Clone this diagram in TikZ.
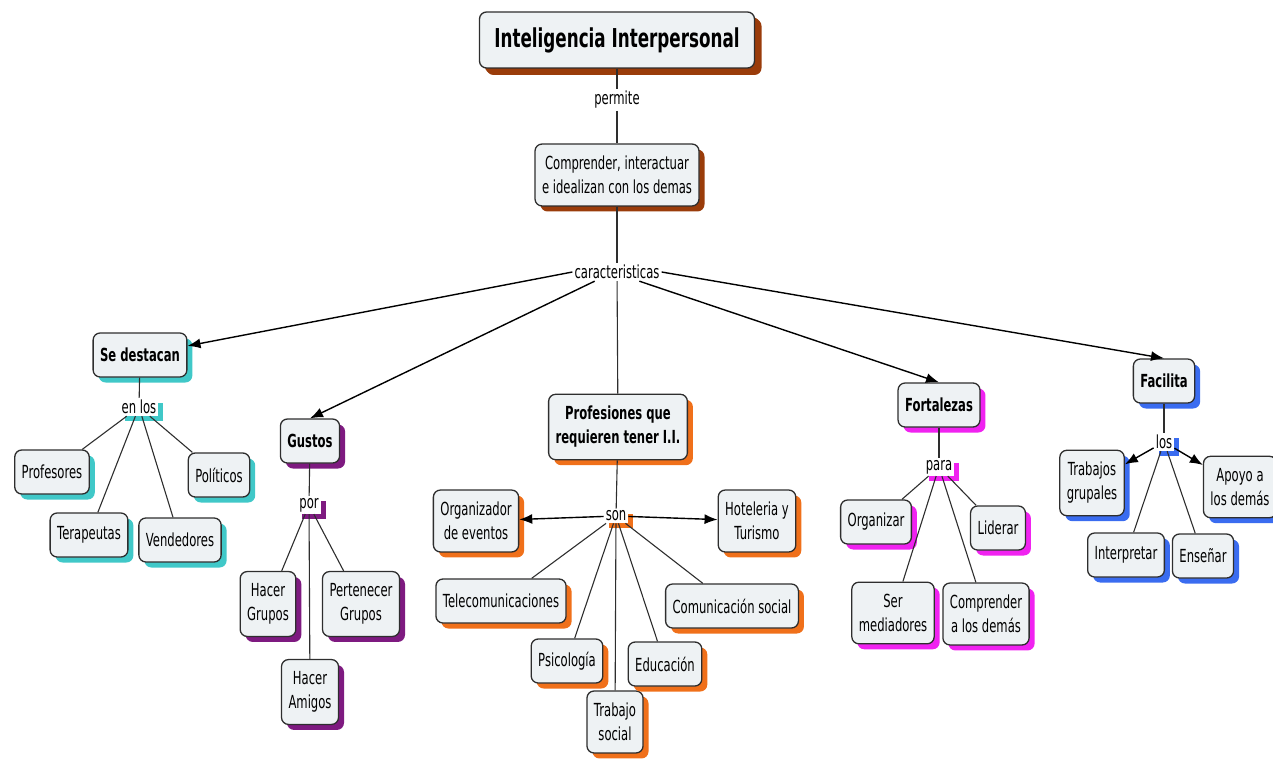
\documentclass[tikz,border=0pt]{standalone}
\usepackage{fontspec}
\setmainfont{DejaVu Sans}[FakeStretch=0.645]
\usetikzlibrary{shadows,arrows.meta,calc}
\definecolor{edgegray}{HTML}{2E2E2E}
\definecolor{boxfill}{HTML}{EEF2F4}
\definecolor{shbrown}{HTML}{9A3C0A}
\definecolor{shteal}{HTML}{40C8C8}
\definecolor{shpurple}{HTML}{7E1A80}
\definecolor{shorange}{HTML}{F0701A}
\definecolor{shmagenta}{HTML}{F022F0}
\definecolor{shblue}{HTML}{3A6CF0}
\tikzset{
  concept/.style={draw=edgegray, line width=1.3pt, fill=boxfill, rounded corners=7pt,
    align=center, font=\fontsize{18}{24}\selectfont, inner xsep=7pt, inner ysep=12pt,
    minimum height=44pt,
    drop shadow={shadow xshift=5.5pt, shadow yshift=-5.5pt, fill=#1, opacity=1}},
  boldconcept/.style={concept=#1, font=\fontsize{18}{24}\selectfont\bfseries},
  linkword/.style={fill=white, inner sep=2pt, font=\fontsize{18}{20}\selectfont,
    drop shadow={shadow xshift=5pt, shadow yshift=-5pt, fill=#1, opacity=1}},
  plainlink/.style={fill=white, inner sep=2pt, font=\fontsize{18}{20}\selectfont},
  conn/.style={draw=edgegray, line width=1.1pt},
  arr/.style={draw=black, line width=1.4pt, -{Latex[length=13pt,width=10pt]}},
}
\begin{document}
\begin{tikzpicture}[x=1pt,y=-1pt]
\useasboundingbox (0,0) rectangle (1273,759);

% root and first level
\node[concept=shbrown, font=\fontsize{26}{30}\selectfont\bfseries, minimum height=56pt,
  minimum width=275pt, drop shadow={shadow xshift=7pt, shadow yshift=-7pt, fill=shbrown, opacity=1}]
  (title) at (617,40) {Inteligencia Interpersonal};
\node[plainlink] (permite) at (617,100) {permite};
\node[concept=shbrown] (comp) at (617,175) {Comprender, interactuar\\e idealizan con los demas};
\node[plainlink] (car) at (617,272) {caracteristicas};

% categories
\node[boldconcept=shteal] (sed) at (140,355) {Se destacan};
\node[boldconcept=shpurple] (gus) at (310,441) {Gustos};
\node[boldconcept=shorange] (prof) at (618,427) {Profesiones que\\requieren tener I.I.};
\node[boldconcept=shmagenta] (fort) at (939,405) {Fortalezas};
\node[boldconcept=shblue] (fac) at (1164,381) {Facilita};

% Se destacan
\node[linkword=shteal] (enlos) at (139,407) {en los};
\node[concept=shteal] (profe) at (52,472) {Profesores};
\node[concept=shteal] (tera) at (89,535) {Terapeutas};
\node[concept=shteal] (vend) at (180,540) {Vendedores};
\node[concept=shteal] (poli) at (219,475) {Políticos};

% Gustos
\node[linkword=shpurple] (por) at (309,505) {por};
\node[concept=shpurple] (hgru) at (268,604) {Hacer\\Grupos};
\node[concept=shpurple] (pgru) at (361,604) {Pertenecer\\Grupos};
\node[concept=shpurple] (hami) at (310,692) {Hacer\\Amigos};

% Profesiones
\node[linkword=shorange] (son) at (616,516) {son};
\node[concept=shorange] (orga) at (476,521) {Organizador\\de eventos};
\node[concept=shorange] (hote) at (757,521) {Hoteleria y\\Turismo};
\node[concept=shorange] (tele) at (501,601) {Telecomunicaciones};
\node[concept=shorange] (psic) at (567,661) {Psicología};
\node[concept=shorange] (trab) at (615,722) {Trabajo\\social};
\node[concept=shorange] (educ) at (665,664) {Educación};
\node[concept=shorange] (comu) at (732,606) {Comunicación social};

% Fortalezas
\node[linkword=shmagenta] (para) at (939,467) {para};
\node[concept=shmagenta] (orgz) at (876,522) {Organizar};
\node[concept=shmagenta] (lide) at (998,528) {Liderar};
\node[concept=shmagenta] (medi) at (893,613) {Ser\\mediadores};
\node[concept=shmagenta] (cdem) at (986,614) {Comprender\\a los demás};

% Facilita
\node[linkword=shblue] (los) at (1164,442) {los};
\node[concept=shblue] (tgru) at (1092,483) {Trabajos\\grupales};
\node[concept=shblue] (apoy) at (1240,487) {Apoyo a\\los demás};
\node[concept=shblue] (inte) at (1126,555) {Interpretar};
\node[concept=shblue] (ense) at (1203,556) {Enseñar};

% top connectors
\draw[conn] (title) -- (permite);
\draw[conn] (permite) -- (comp);
\draw[conn] (comp) -- (car);
\draw[arr] (car.west) -- (sed);
\draw[arr] ($(car.south west)!0.25!(car.south east)$) -- (gus.north);
\draw[conn] (car) -- (prof);
\draw[arr] ($(car.south west)!0.75!(car.south east)$) -- (fort.north);
\draw[arr] (car.east) -- (fac.north);

% Se destacan connectors
\draw[conn] (sed) -- (enlos);
\draw[conn] (enlos) -- (profe);
\draw[conn] (enlos) -- (tera);
\draw[conn] (enlos) -- (vend);
\draw[conn] (enlos) -- (poli);

% Gustos connectors
\draw[conn] (gus) -- (por);
\draw[conn] (por) -- (hgru);
\draw[conn] (por) -- (pgru);
\draw[conn] (por) -- (hami);

% Profesiones connectors
\draw[conn] (prof) -- (son);
\draw[arr] (son) -- (orga);
\draw[arr] (son) -- (hote);
\draw[conn] (son) -- (tele);
\draw[conn] (son) -- (psic);
\draw[conn] (son) -- (trab);
\draw[conn] (son) -- (educ);
\draw[conn] (son) -- (comu);

% Fortalezas connectors
\draw[conn] (fort) -- (para);
\draw[conn] (para) -- (orgz);
\draw[conn] (para) -- (lide);
\draw[conn] (para) -- (medi);
\draw[conn] (para) -- (cdem);

% Facilita connectors
\draw[conn] (fac) -- (los);
\draw[arr] (los) -- (tgru);
\draw[arr] (los) -- (apoy);
\draw[conn] (los) -- (inte);
\draw[conn] (los) -- (ense);
\end{tikzpicture}
\end{document}
